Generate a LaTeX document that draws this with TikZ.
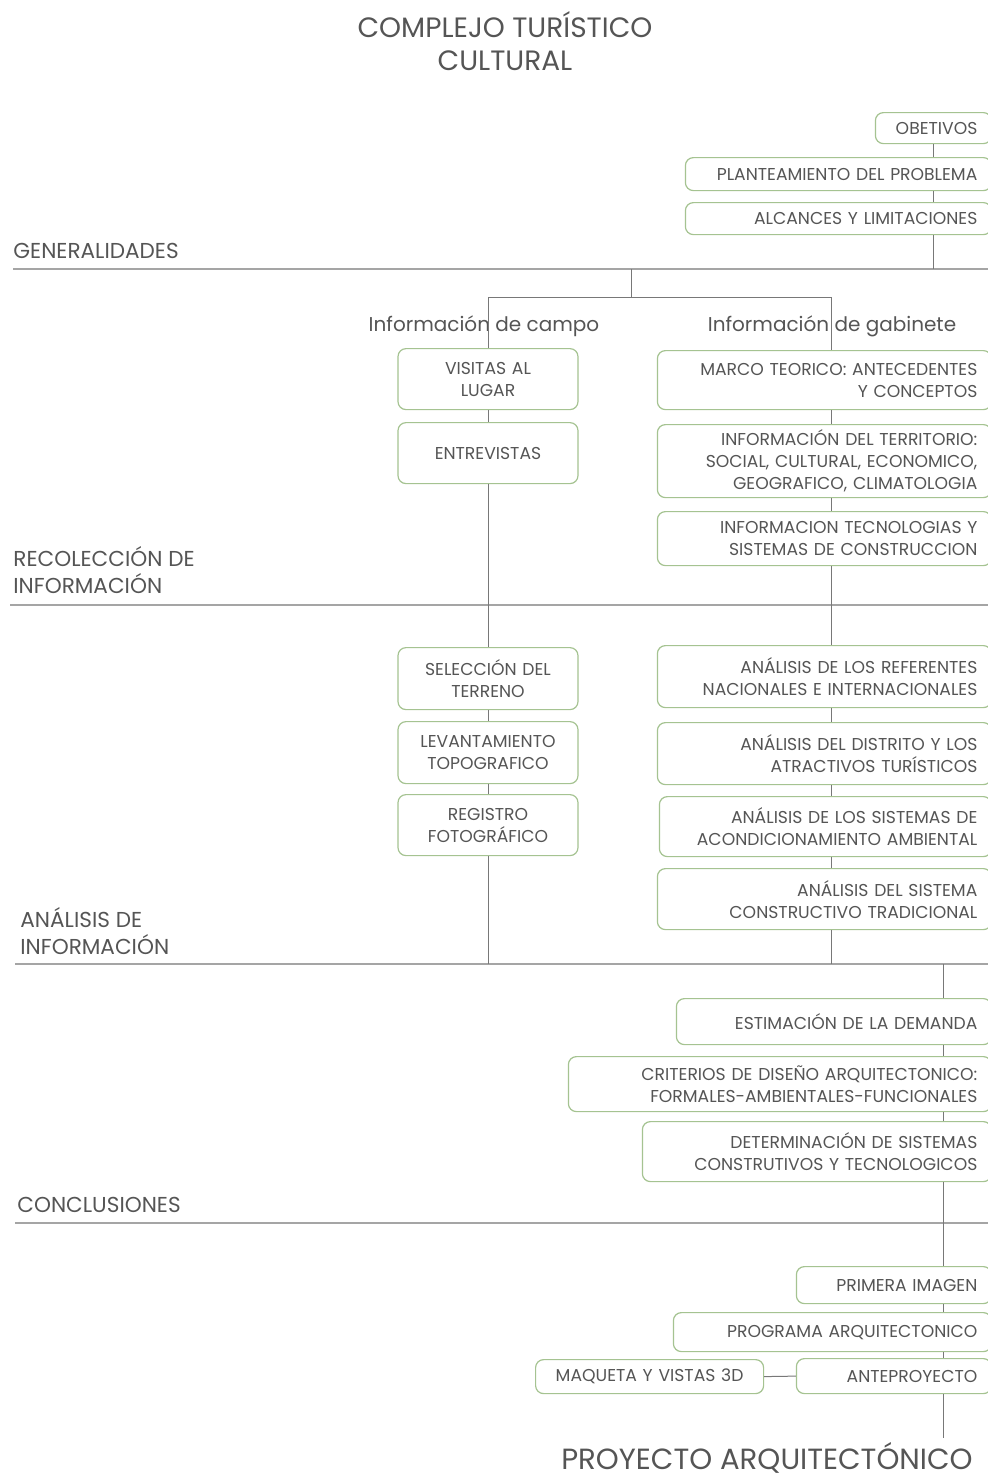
\documentclass[tikz,border=0pt]{standalone}
\usepackage{fontspec}
\setmainfont{Poppins}
\usetikzlibrary{positioning}

\definecolor{textogris}{RGB}{85,85,85}
\definecolor{lineagris}{RGB}{120,120,120}
\definecolor{reglagris}{RGB}{165,165,165}
\definecolor{verdecaja}{RGB}{165,195,145}

\tikzset{
  caja/.style={draw=verdecaja, line width=0.6pt, rounded corners=4pt, fill=white,
    text=textogris, inner xsep=7pt, inner ysep=2pt, align=right,
    font=\fontsize{8.6}{11}\selectfont},
  cajader/.style={caja, anchor=north east},
  cajaizq/.style={caja, anchor=north, align=center, text width=76pt},
  linea/.style={draw=lineagris, line width=0.5pt},
  regla/.style={draw=reglagris, line width=0.8pt},
  seccion/.style={anchor=west, align=left, inner sep=0pt, text=textogris,
    font=\fontsize{10.8}{13.5}\selectfont},
  subtitulo/.style={inner sep=0pt, text=textogris, font=\fontsize{10}{12}\selectfont},
  titulo/.style={align=center, inner sep=0pt, text=textogris, font=\fontsize{14}{16.5}\selectfont},
}

\begin{document}
\begin{tikzpicture}[x=0.5pt,y=-0.5pt]
\useasboundingbox (0,0) rectangle (988,1480);
\clip (0,0) rectangle (988,1480);

\node[titulo] (tit) at (505,41) {COMPLEJO TURÍSTICO\\CULTURAL};

% generalidades
\node[cajader, text width=44pt, minimum height=15.5pt] (obj) at (992,112) {OBETIVOS};
\node[cajader, text width=139pt, minimum height=16.5pt] (plan) at (992,157) {PLANTEAMIENTO DEL PROBLEMA};
\node[cajader, text width=139pt, minimum height=16pt] (alc) at (992,202) {ALCANCES Y LIMITACIONES};
\node[seccion] (gen) at (13,251) {GENERALIDADES};
\draw[regla] (13,269) -- (988,269);
\coordinate (gA) at (933,269);
\draw[linea] (obj.south -| gA) -- (plan.north -| gA);
\draw[linea] (plan.south -| gA) -- (alc.north -| gA);
\draw[linea] (alc.south -| gA) -- (gA);

% recoleccion de informacion
\coordinate (gB) at (631,269);
\coordinate (gC) at (631,297);
\coordinate (campoT) at (488,297);
\coordinate (gabT) at (831,297);
\draw[linea] (gB) -- (gC);
\draw[linea] (campoT) -- (gabT);
\node[subtitulo] (campo) at (484,326) {Información de campo};
\node[subtitulo] (gab) at (832,326) {Información de gabinete};

\node[cajaizq, minimum height=30.5pt] (visitas) at (488,348) {VISITAS AL\\LUGAR};
\node[cajaizq, minimum height=30.5pt] (entrev) at (488,422) {ENTREVISTAS};

\node[cajader, text width=153pt, minimum height=29.5pt] (marco) at (992,350) {MARCO TEORICO: ANTECEDENTES\\Y CONCEPTOS};
\node[cajader, text width=153pt, minimum height=36.5pt] (terr) at (992,424) {INFORMACIÓN DEL TERRITORIO:\\SOCIAL, CULTURAL, ECONOMICO,\\GEOGRAFICO, CLIMATOLOGIA};
\node[cajader, text width=153pt, minimum height=27pt] (tec) at (992,511) {INFORMACION TECNOLOGIAS Y\\SISTEMAS DE CONSTRUCCION};
\node[seccion] (reco) at (13,570) {RECOLECCIÓN DE\\INFORMACIÓN};
\draw[regla] (10,605) -- (988,605);

% analisis de informacion
\node[cajaizq, minimum height=31pt] (selec) at (488,647) {SELECCIÓN DEL\\TERRENO};
\node[cajaizq, minimum height=31pt] (levant) at (488,721) {LEVANTAMIENTO\\TOPOGRAFICO};
\node[cajaizq, minimum height=30.5pt] (regis) at (488,794) {REGISTRO\\FOTOGRÁFICO};

\node[cajader, text width=153pt, minimum height=31pt] (ref) at (992,645) {ANÁLISIS DE LOS REFERENTES\\NACIONALES E INTERNACIONALES};
\node[cajader, text width=153pt, minimum height=31pt] (dist) at (992,722) {ANÁLISIS DEL DISTRITO Y LOS\\ATRACTIVOS TURÍSTICOS};
\node[cajader, text width=152pt, minimum height=30pt] (acon) at (992,796) {ANÁLISIS DE LOS SISTEMAS DE\\ACONDICIONAMIENTO AMBIENTAL};
\node[cajader, text width=153pt, minimum height=30.5pt] (trad) at (992,868) {ANÁLISIS DEL SISTEMA\\CONSTRUCTIVO TRADICIONAL};
\node[seccion] (anal) at (20,931) {ANÁLISIS DE\\INFORMACIÓN};
\draw[regla] (15,964) -- (988,964);

\coordinate (campoB) at (488,964);
\coordinate (gabB) at (831,964);
\draw[linea] (campoT) -- (visitas.north);
\draw[linea] (visitas) -- (entrev);
\draw[linea] (entrev) -- (selec);
\draw[linea] (selec) -- (levant);
\draw[linea] (levant) -- (regis);
\draw[linea] (regis.south) -- (campoB);
\draw[linea] (gabT) -- (marco.north -| gabT);
\draw[linea] (marco.south -| gabT) -- (terr.north -| gabT);
\draw[linea] (terr.south -| gabT) -- (tec.north -| gabT);
\draw[linea] (tec.south -| gabT) -- (ref.north -| gabT);
\draw[linea] (ref.south -| gabT) -- (dist.north -| gabT);
\draw[linea] (dist.south -| gabT) -- (acon.north -| gabT);
\draw[linea] (acon.south -| gabT) -- (trad.north -| gabT);
\draw[linea] (trad.south -| gabT) -- (gabB);

% conclusiones
\node[cajader, text width=143.5pt, minimum height=23pt] (estim) at (992,998) {ESTIMACIÓN DE LA DEMANDA};
\node[cajader, text width=197.5pt, minimum height=27.5pt] (crit) at (992,1056) {CRITERIOS DE DISEÑO ARQUITECTONICO:\\FORMALES-AMBIENTALES-FUNCIONALES};
\node[cajader, text width=160.5pt, minimum height=30pt] (deter) at (992,1121) {DETERMINACIÓN DE SISTEMAS\\CONSTRUTIVOS Y TECNOLOGICOS};
\node[seccion] (concl) at (17,1205) {CONCLUSIONES};
\draw[regla] (15,1223) -- (988,1223);

% proyecto
\node[cajader, text width=83.5pt, minimum height=18.5pt] (prim) at (992,1266) {PRIMERA IMAGEN};
\node[cajader, text width=145pt, minimum height=19.5pt] (prog) at (992,1312) {PROGRAMA ARQUITECTONICO};
\node[cajader, text width=83.5pt, minimum height=17.5pt] (ante) at (992,1358) {ANTEPROYECTO};
\node[caja, anchor=north west, align=center, text width=100pt, minimum height=17pt] (maq) at (535,1359) {MAQUETA Y VISTAS 3D};
\node[titulo, anchor=base, font=\fontsize{14.6}{17}\selectfont] (proy) at (767,1469) {PROYECTO ARQUITECTÓNICO};

\coordinate (cA) at (943,964);
\coordinate (fin) at (943,1438);
\draw[linea] (cA) -- (estim.north -| cA);
\draw[linea] (estim.south -| cA) -- (crit.north -| cA);
\draw[linea] (crit.south -| cA) -- (deter.north -| cA);
\draw[linea] (deter.south -| cA) -- (prim.north -| cA);
\draw[linea] (prim.south -| cA) -- (prog.north -| cA);
\draw[linea] (prog.south -| cA) -- (ante.north -| cA);
\draw[linea] (ante.south -| cA) -- (fin);
\draw[linea] (maq.east) -- (ante.west);
\end{tikzpicture}
\end{document}
